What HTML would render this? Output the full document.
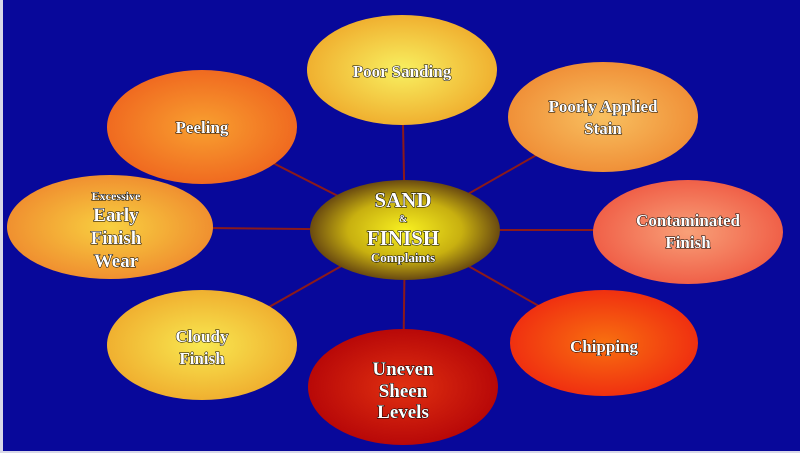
<!DOCTYPE html>
<html><head><style>
body{margin:0;background:#fff;}
svg{display:block}
text{font-family:"Liberation Serif",serif;font-weight:bold;fill:#fff;text-anchor:middle;stroke:#000;stroke-width:1;paint-order:stroke}
</style></head><body>
<svg width="800" height="453" viewBox="0 0 800 453" xmlns="http://www.w3.org/2000/svg">
<defs>
<radialGradient id="gc"><stop offset="0" stop-color="#f8f020"/><stop offset="0.6" stop-color="#c8b010"/><stop offset="1" stop-color="#6a4a10"/></radialGradient>
<radialGradient id="g1"><stop offset="0" stop-color="#f8f060"/><stop offset="1" stop-color="#f0b030"/></radialGradient>
<radialGradient id="g2"><stop offset="0" stop-color="#f8a030"/><stop offset="1" stop-color="#f06a20"/></radialGradient>
<radialGradient id="g3"><stop offset="0" stop-color="#f8c060"/><stop offset="1" stop-color="#f09038"/></radialGradient>
<radialGradient id="g4"><stop offset="0" stop-color="#f8d040"/><stop offset="1" stop-color="#f09030"/></radialGradient>
<radialGradient id="g5"><stop offset="0" stop-color="#f8a078"/><stop offset="1" stop-color="#f06048"/></radialGradient>
<radialGradient id="g6"><stop offset="0" stop-color="#f87010"/><stop offset="1" stop-color="#f03010"/></radialGradient>
<radialGradient id="g7"><stop offset="0" stop-color="#e03010"/><stop offset="1" stop-color="#b80808"/></radialGradient>
<radialGradient id="g8"><stop offset="0" stop-color="#f8e850"/><stop offset="1" stop-color="#f0b030"/></radialGradient>
</defs>
<rect x="0" y="0" width="800" height="453" fill="#08089a"/>
<rect x="0" y="0" width="3" height="453" fill="#d8d8e8"/>
<rect x="0" y="451" width="800" height="2" fill="#d8d8e8"/>
<g stroke="#8b1a1a" stroke-width="2">
<line x1="405" y1="230" x2="402" y2="70"/>
<line x1="405" y1="230" x2="202" y2="127"/>
<line x1="405" y1="230" x2="603" y2="117"/>
<line x1="405" y1="230" x2="110" y2="227"/>
<line x1="405" y1="230" x2="688" y2="230"/>
<line x1="405" y1="230" x2="202" y2="345"/>
<line x1="405" y1="230" x2="403" y2="387"/>
<line x1="405" y1="230" x2="604" y2="343"/>
</g>
<ellipse cx="402" cy="70" rx="95" ry="55" fill="url(#g1)"/>
<ellipse cx="202" cy="127" rx="95" ry="57" fill="url(#g2)"/>
<ellipse cx="603" cy="117" rx="95" ry="55" fill="url(#g3)"/>
<ellipse cx="110" cy="227" rx="103" ry="52" fill="url(#g4)"/>
<ellipse cx="688" cy="232" rx="95" ry="52" fill="url(#g5)"/>
<ellipse cx="604" cy="343" rx="94" ry="53" fill="url(#g6)"/>
<ellipse cx="403" cy="387" rx="95" ry="58" fill="url(#g7)"/>
<ellipse cx="202" cy="345" rx="95" ry="55" fill="url(#g8)"/>
<ellipse cx="405" cy="230" rx="95" ry="50" fill="url(#gc)"/>
<g font-size="17">
<text x="402" y="77">Poor Sanding</text>
<text x="202" y="133">Peeling</text>
<text x="603" y="112">Poorly Applied</text>
<text x="603" y="134">Stain</text>
<text x="688" y="226">Contaminated</text>
<text x="688" y="248">Finish</text>
<text x="604" y="352">Chipping</text>
<text x="202" y="342">Cloudy</text>
<text x="202" y="364">Finish</text>
</g>
<g font-size="19">
<text x="403" y="375">Uneven</text>
<text x="403" y="397">Sheen</text>
<text x="403" y="418">Levels</text>
<text x="116" y="221">Early</text>
<text x="116" y="244">Finish</text>
<text x="116" y="267">Wear</text>
</g>
<text x="116" y="200" font-size="12">Excessive</text>
<text x="403" y="207" font-size="21">SAND</text>
<text x="403" y="222" font-size="10">&amp;</text>
<text x="403" y="245" font-size="21">FINISH</text>
<text x="403" y="262" font-size="13">Complaints</text>
</svg>
</body></html>
